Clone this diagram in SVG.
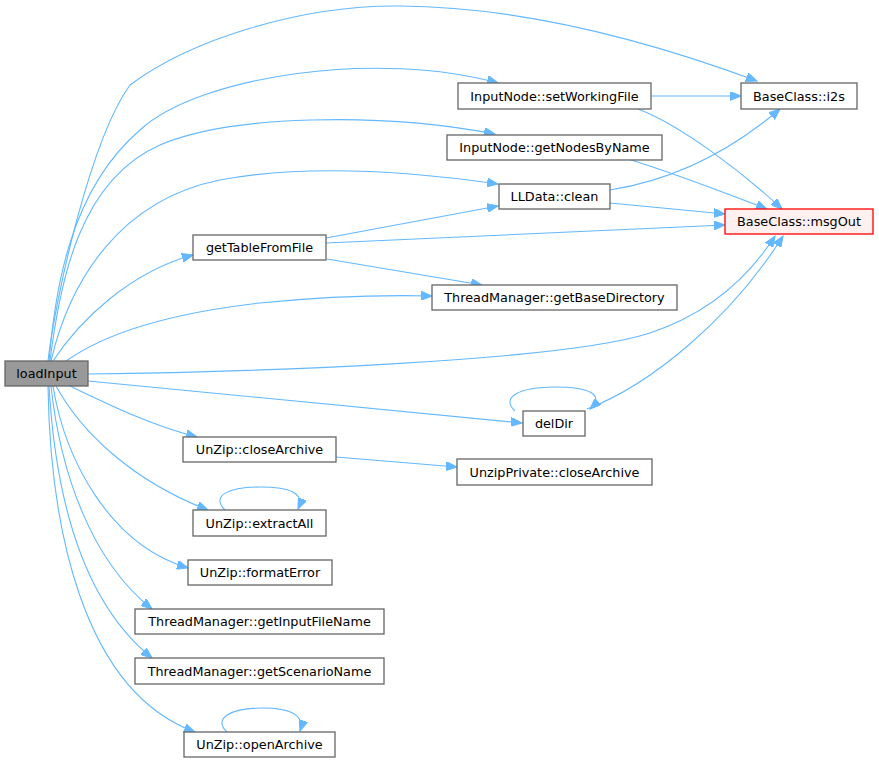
<svg xmlns="http://www.w3.org/2000/svg" width="879" height="763" viewBox="0 0 879 763">
<defs>
<marker id="ah" markerUnits="userSpaceOnUse" markerWidth="12" markerHeight="9" refX="11" refY="4.5" orient="auto">
<path d="M0,0 L11,4.5 L0,9 z" fill="#63b8ff" stroke="#63b8ff" stroke-width="1"/>
</marker>
<style>
.e{fill:none;stroke:#63b8ff;stroke-width:1.1;marker-end:url(#ah)}
.n rect{fill:#ffffff;stroke:#666666;stroke-width:1.3}
.n text{font-family:"DejaVu Sans",sans-serif;font-size:12.8px;fill:#000000;text-anchor:middle}
#loadInput rect{fill:#999999}
#msgOut rect{fill:#fff0f0;stroke:#ff0000}
</style>
</defs>
<rect width="879" height="763" fill="#ffffff"/>
<g id="edges">
<path class="e" d="M48,361 C55,300 90,140 130,85 C190,40 300,5 400,6 C530,7 660,45 757,81"/>
<path class="e" d="M49,361 C55,290 70,190 140,130 C200,75 380,50 498,83"/>
<path class="e" d="M50,361 C60,280 80,180 160,145 C230,115 380,112 495,134"/>
<path class="e" d="M51,361 C70,280 120,200 220,180 C300,165 400,170 498,184"/>
<path class="e" d="M53,361 C80,320 130,272 193,255"/>
<path class="e" d="M66,361 C110,330 180,312 260,303 C330,296 390,295 432,296"/>
<path class="e" d="M88,374 C250,372 560,362 650,333 C710,313 750,275 775,236"/>
<path class="e" d="M88,381 L522,423"/>
<path class="e" d="M70,386 C110,405 150,425 197,437"/>
<path class="e" d="M56,386 C80,430 130,480 208,510"/>
<path class="e" d="M53,386 C65,460 110,545 188,568"/>
<path class="e" d="M51,386 C60,470 90,560 152,609"/>
<path class="e" d="M49,386 C55,490 80,600 152,658"/>
<path class="e" d="M48,386 C50,520 80,690 195,732"/>
<path class="e" d="M651,96 L741,96"/>
<path class="e" d="M638,109 C680,125 740,170 782,209"/>
<path class="e" d="M628,159 C680,175 730,195 767,209"/>
<path class="e" d="M610,190 C660,182 720,160 780,109"/>
<path class="e" d="M610,203 L725,214"/>
<path class="e" d="M326,238 L498,206"/>
<path class="e" d="M326,243 L725,225"/>
<path class="e" d="M327,259 L482,285"/>
<path class="e" d="M587,409 C650,385 730,320 783,236"/>
<path class="e" d="M515,411 C500,397 520,387 555,387 C590,387 605,395 590,409"/>
<path class="e" d="M336,457 L457,467"/>
<path class="e" d="M225,510 C210,495 230,487 260,487 C290,487 305,493 298,509"/>
<path class="e" d="M227,732 C212,718 232,708 262,708 C292,708 305,716 300,731"/>
</g>
<g id="loadInput" class="n"><rect x="5" y="361" width="83" height="25"/><text x="46.5" y="378">loadInput</text></g>
<g id="setWorkingFile" class="n"><rect x="458" y="83" width="193" height="26"/><text x="554.5" y="100.5">InputNode::setWorkingFile</text></g>
<g id="i2s" class="n"><rect x="741" y="83" width="116" height="26"/><text x="799" y="100.5">BaseClass::i2s</text></g>
<g id="getNodesByName" class="n"><rect x="447" y="135" width="215" height="25"/><text x="554.5" y="152">InputNode::getNodesByName</text></g>
<g id="clean" class="n"><rect x="499" y="184" width="111" height="25"/><text x="554.5" y="201">LLData::clean</text></g>
<g id="msgOut" class="n"><rect x="725" y="209" width="148" height="25"/><text x="799" y="226">BaseClass::msgOut</text></g>
<g id="getTableFromFile" class="n"><rect x="193" y="235" width="133" height="25"/><text x="259.5" y="252">getTableFromFile</text></g>
<g id="getBaseDirectory" class="n"><rect x="432" y="285" width="245" height="25"/><text x="554.5" y="302">ThreadManager::getBaseDirectory</text></g>
<g id="delDir" class="n"><rect x="523" y="411" width="62" height="25"/><text x="554" y="428">delDir</text></g>
<g id="closeArchive" class="n"><rect x="183" y="437" width="153" height="25"/><text x="259.5" y="454">UnZip::closeArchive</text></g>
<g id="privCloseArchive" class="n"><rect x="457" y="459" width="195" height="26"/><text x="554.5" y="476.5">UnzipPrivate::closeArchive</text></g>
<g id="extractAll" class="n"><rect x="193" y="510" width="133" height="26"/><text x="259.5" y="527.5">UnZip::extractAll</text></g>
<g id="formatError" class="n"><rect x="188" y="560" width="144" height="25"/><text x="260" y="577">UnZip::formatError</text></g>
<g id="getInputFileName" class="n"><rect x="135" y="609" width="249" height="25"/><text x="259.5" y="626">ThreadManager::getInputFileName</text></g>
<g id="getScenarioName" class="n"><rect x="135" y="658" width="249" height="26"/><text x="259.5" y="675.5">ThreadManager::getScenarioName</text></g>
<g id="openArchive" class="n"><rect x="184" y="732" width="151" height="25"/><text x="259.5" y="749">UnZip::openArchive</text></g>
</svg>
